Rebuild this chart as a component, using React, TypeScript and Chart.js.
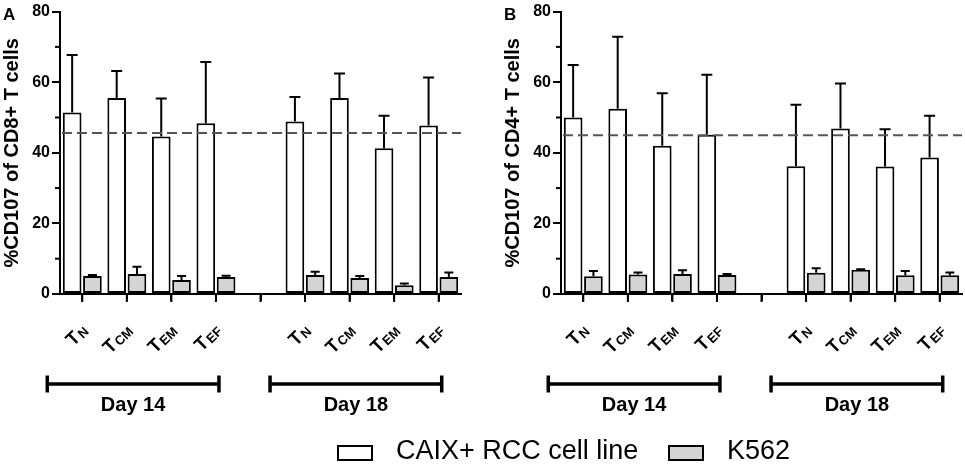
import React, { useEffect, useRef } from "react";
import { Chart, registerables } from "chart.js";

Chart.register(...registerables);

// categories: T subsets, blank slot separates the two days
const subsets = ["N", "CM", "EM", "EF", "", "N", "CM", "EM", "EF"];
const dayGroups = [
  { label: "Day 14", from: 0, to: 3 },
  { label: "Day 18", from: 5, to: 8 },
];
const seriesNames = ["CAIX+ RCC cell line", "K562"];

// panel A: CD8+
const cd8Caix = [51.4, 55.5, 44.6, 48.4, null, 48.9, 55.5, 41.3, 47.7];
const cd8CaixErr = [16.3, 7.7, 10.8, 17.3, null, 6.9, 7.0, 9.2, 13.6];
const cd8K562 = [5.1, 5.7, 4.0, 4.8, null, 5.4, 4.5, 2.5, 4.8];
const cd8K562Err = [0.3, 2.0, 1.1, 0.4, null, 0.9, 0.6, 0.5, 1.3];
const cd8Reference = 45.6;

// panel B: CD4+
const cd4Caix = [50.0, 52.5, 42.0, 45.1, null, 36.2, 46.9, 36.1, 38.7];
const cd4CaixErr = [14.9, 20.4, 14.9, 17.0, null, 17.4, 12.7, 10.6, 11.8];
const cd4K562 = [5.0, 5.5, 5.7, 5.4, null, 6.0, 6.9, 5.3, 5.3];
const cd4K562Err = [1.5, 0.6, 1.0, 0.3, null, 1.3, 0.1, 1.2, 0.8];
const cd4Reference = 45.0;

const yMax = 80;
const yStep = 20;
const minorTicks = [10, 30, 50, 70];

const FONT = "'Liberation Sans', Arial, sans-serif";
const GREY = "#d4d4d4";

const panelPlugin = {
  id: "panel",
  afterDatasetsDraw(chart: any) {
    const { ctx, chartArea } = chart;
    const y = chart.scales.y;
    // error bars (upper only)
    chart.data.datasets.forEach((ds: any, di: number) => {
      const meta = chart.getDatasetMeta(di);
      meta.data.forEach((bar: any, i: number) => {
        const v = ds.data[i];
        const e = ds.errors[i];
        if (v == null || e == null) return;
        const yb = y.getPixelForValue(v);
        const yt = y.getPixelForValue(v + e);
        ctx.save();
        ctx.strokeStyle = "#000";
        ctx.lineWidth = 2;
        ctx.beginPath();
        ctx.moveTo(bar.x, yb);
        ctx.lineTo(bar.x, yt);
        ctx.moveTo(bar.x - ds.capHalf, yt);
        ctx.lineTo(bar.x + ds.capHalf, yt);
        ctx.stroke();
        ctx.restore();
      });
    });
    // dashed reference line
    const opts = chart.options.plugins.panel;
    const yr = y.getPixelForValue(opts.reference);
    ctx.save();
    ctx.strokeStyle = "#555";
    ctx.lineWidth = 2;
    ctx.setLineDash([10, 5]);
    ctx.beginPath();
    ctx.moveTo(chartArea.left + 2, yr);
    ctx.lineTo(chartArea.right, yr);
    ctx.stroke();
    ctx.restore();
  },
  afterDraw(chart: any) {
    const { ctx, chartArea } = chart;
    const x = chart.scales.x;
    const y = chart.scales.y;
    const opts = chart.options.plugins.panel;
    const bottom = chartArea.bottom;
    ctx.save();
    ctx.setLineDash([]);
    ctx.fillStyle = "#000";

    // panel letter
    ctx.font = `bold 17px ${FONT}`;
    ctx.textAlign = "left";
    ctx.textBaseline = "alphabetic";
    ctx.fillText(opts.letter, 3, 20);

    // minor y ticks and x category ticks
    minorTicks.forEach((v) => {
      const py = y.getPixelForValue(v);
      ctx.fillRect(chartArea.left - 5, py - 1, 5, 2);
    });
    subsets.forEach((_, i) => {
      const px = x.getPixelForValue(i);
      ctx.fillRect(px - 1, bottom, 2, 8);
    });

    // rotated T-subset labels
    subsets.forEach((sub, i) => {
      if (!sub) return;
      const px = x.getPixelForValue(i);
      ctx.save();
      ctx.translate(px + 3, bottom + 34);
      ctx.rotate(-Math.PI / 4);
      ctx.font = `bold 19px ${FONT}`;
      const wT = ctx.measureText("T").width;
      ctx.font = `bold 13px ${FONT}`;
      const wS = ctx.measureText(sub).width;
      ctx.font = `bold 19px ${FONT}`;
      ctx.fillText("T", -(wT + wS + 1), 5);
      ctx.font = `bold 13px ${FONT}`;
      ctx.fillText(sub, -wS, 6);
      ctx.restore();
    });

    // day brackets
    const by = bottom + 90;
    dayGroups.forEach((g) => {
      const x1 = x.getPixelForValue(g.from) - 35;
      const x2 = x.getPixelForValue(g.to) + 3;
      ctx.fillRect(x1, by - 1.75, x2 - x1, 3.5);
      ctx.fillRect(x1 - 1.75, by - 8.5, 3.5, 17);
      ctx.fillRect(x2 - 1.75, by - 8.5, 3.5, 17);
      ctx.font = `bold 20px ${FONT}`;
      ctx.textAlign = "center";
      ctx.fillText(g.label, (x1 + x2) / 2, by + 27);
      ctx.textAlign = "left";
    });
    ctx.restore();
  },
};

function Panel(props: {
  letter: string;
  title: string;
  caix: (number | null)[];
  caixErr: (number | null)[];
  k562: (number | null)[];
  k562Err: (number | null)[];
  reference: number;
  left: number;
}): JSX.Element {
  const canvasRef = useRef<HTMLCanvasElement | null>(null);
  const chartRef = useRef<Chart | null>(null);

  useEffect(() => {
    if (!canvasRef.current) return;
    if (chartRef.current) chartRef.current.destroy();

    chartRef.current = new Chart(canvasRef.current, {
      type: "bar",
      data: {
        labels: subsets,
        datasets: [
          {
            label: seriesNames[0],
            data: props.caix,
            errors: props.caixErr,
            capHalf: 5.5,
            backgroundColor: "#fff",
            borderColor: "#000",
            borderWidth: 2,
            borderSkipped: false,
            categoryPercentage: 0.91,
            barPercentage: 0.92,
          } as any,
          {
            label: seriesNames[1],
            data: props.k562,
            errors: props.k562Err,
            capHalf: 4.5,
            backgroundColor: GREY,
            borderColor: "#000",
            borderWidth: 2,
            borderSkipped: false,
            categoryPercentage: 0.91,
            barPercentage: 0.92,
          } as any,
        ],
      },
      options: {
        animation: false,
        responsive: false,
        devicePixelRatio: 1,
        layout: { padding: { top: 10, bottom: 166, left: 0, right: 3 } },
        plugins: {
          legend: { display: false },
          tooltip: { enabled: false },
          panel: { letter: props.letter, reference: props.reference },
        } as any,
        scales: {
          x: {
            offset: true,
            grid: {
              offset: false,
              drawOnChartArea: false,
              tickLength: 7,
              lineWidth: 2,
              color: "#000",
            },
            border: { color: "#000", width: 2 },
            ticks: { display: false },
          },
          y: {
            min: 0,
            max: yMax,
            afterFit: (scale: any) => {
              scale.width = 60;
            },
            ticks: {
              stepSize: yStep,
              padding: 2,
              color: "#000",
              font: { family: FONT, size: 16, weight: "bold" },
            },
            grid: {
              drawOnChartArea: false,
              tickLength: 8,
              lineWidth: 2,
              color: "#000",
            },
            border: { color: "#000", width: 2 },
            title: {
              display: true,
              text: props.title,
              color: "#000",
              padding: { top: 0, bottom: 0 },
              font: { family: FONT, size: 20, weight: "bold" },
            },
          },
        },
      },
      plugins: [panelPlugin],
    });

    return () => {
      chartRef.current?.destroy();
      chartRef.current = null;
    };
  }, []);

  return (
    <canvas
      ref={canvasRef}
      width={464}
      height={467}
      style={{ position: "absolute", left: props.left, top: 0, width: 464, height: 467 }}
    />
  );
}

function LegendItem(props: { fill: string; text: string; boxLeft: number; textLeft: number }) {
  return (
    <>
      <div
        style={{
          position: "absolute",
          left: props.boxLeft,
          top: 445,
          width: 36,
          height: 16,
          boxSizing: "border-box",
          border: "2px solid #000",
          background: props.fill,
        }}
      />
      <div
        style={{
          position: "absolute",
          left: props.textLeft,
          top: 437,
          font: `27px ${FONT}`,
          lineHeight: "27px",
          color: "#000",
          whiteSpace: "nowrap",
        }}
      >
        {props.text}
      </div>
    </>
  );
}

export default function App(): JSX.Element {
  return (
    <div
      style={{
        position: "absolute",
        left: 0,
        top: 0,
        width: 965,
        height: 467,
        background: "#fff",
        overflow: "hidden",
      }}
    >
      <Panel
        letter="A"
        title="%CD107 of CD8+ T cells"
        caix={cd8Caix}
        caixErr={cd8CaixErr}
        k562={cd8K562}
        k562Err={cd8K562Err}
        reference={cd8Reference}
        left={0}
      />
      <Panel
        letter="B"
        title="%CD107 of CD4+ T cells"
        caix={cd4Caix}
        caixErr={cd4CaixErr}
        k562={cd4K562}
        k562Err={cd4K562Err}
        reference={cd4Reference}
        left={501}
      />
      <LegendItem fill="#fff" text={seriesNames[0]} boxLeft={337} textLeft={396} />
      <LegendItem fill={GREY} text={seriesNames[1]} boxLeft={668} textLeft={727} />
    </div>
  );
}
